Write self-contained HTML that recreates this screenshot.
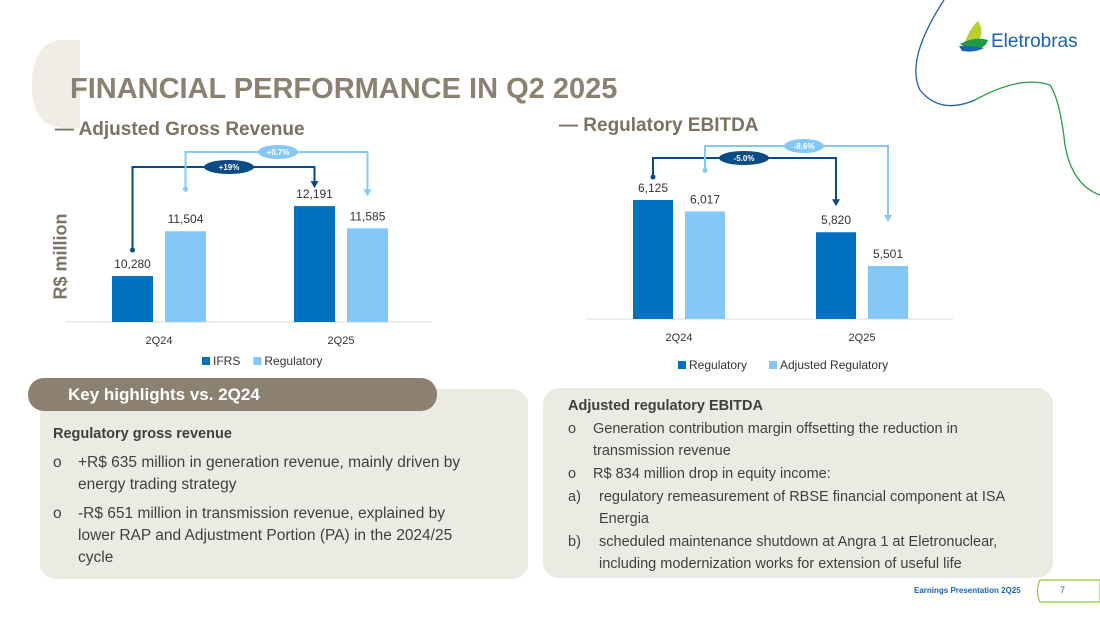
<!DOCTYPE html>
<html><head><meta charset="utf-8">
<style>
body{margin:0;width:1100px;height:619px;background:#fff;position:relative;overflow:hidden;font-family:"Liberation Sans",sans-serif;}
.abs{position:absolute;}
.txt{position:absolute;color:#3f3f3f;font-size:14.5px;line-height:22px;}
.li{position:absolute;color:#3f3f3f;font-size:15.5px;line-height:22px;}
.bul{position:absolute;left:0;top:0;}
</style></head><body>
<svg class="abs" style="left:0;top:0" width="1100" height="619">
<path d="M60 40 Q30 45 32 90 Q34 130 70 128 L80 128 L80 40 Z" fill="#efede6"/>
<path d="M944 0 Q905 60 920 90 Q940 115 975 100" fill="none" stroke="#1f5fae" stroke-width="1.3"/>
<path d="M975 100 Q1020 75 1050 85 Q1060 100 1065 145 Q1072 185 1100 195" fill="none" stroke="#2a9a4a" stroke-width="1.3"/>
<path d="M965 42 Q970 28 978 21 Q985 32 978 42 Z" fill="#b9cf32"/>
<path d="M960 44 Q975 36 988 40 Q985 50 970 50 Z" fill="#1d9a46"/>
<path d="M959 46 Q972 46 984 48 Q975 53 962 51 Z" fill="#1a62b3"/>
<path d="M1040 580 L1100 580 L1100 602 L1040 602 Q1035 591 1040 580 Z" fill="#fff" stroke="#9bc53d" stroke-width="1.2"/>
</svg>
<div class="abs" style="left:991px;top:31px;font-size:19px;color:#1a62b3">Eletrobras</div>
<div class="abs" style="left:70px;top:73px;font-size:29px;font-weight:bold;color:#8c8170">FINANCIAL PERFORMANCE IN Q2 2025</div>
<div class="abs" style="left:55px;top:119px;font-size:19px;font-weight:bold;color:#7b7262">— Adjusted Gross Revenue</div>
<div class="abs" style="left:559px;top:115px;font-size:19px;font-weight:bold;color:#7b7262">— Regulatory EBITDA</div>
<div class="abs" style="left:6px;top:246px;transform:rotate(-90deg);transform-origin:center;width:110px;text-align:center;font-size:18px;font-weight:bold;color:#7b7262">R$ million</div>

<svg id="c1" class="abs" style="left:0;top:0" width="1100" height="380"></svg>

<div class="abs" style="left:40px;top:389px;width:488px;height:190px;background:#ecebe3;border-radius:16px"></div>
<div class="abs" style="left:28px;top:378px;width:409px;height:33px;background:#8c8170;border-radius:16px;color:#fff;font-size:17px;font-weight:bold;line-height:33px;box-sizing:border-box;padding-left:40px">Key highlights vs. 2Q24</div>
<div class="txt" style="left:53px;top:423px;font-weight:bold;font-size:14.5px">Regulatory gross revenue</div>
<div class="li" style="left:53px;top:452px;width:425px"><span class="bul">o</span><div style="margin-left:25px">+R$ 635 million in generation revenue, mainly driven by energy trading strategy</div></div>
<div class="li" style="left:53px;top:503px;width:425px"><span class="bul">o</span><div style="margin-left:25px">-R$ 651 million in transmission revenue, explained by lower RAP and Adjustment Portion (PA) in the 2024/25 cycle</div></div>

<div class="abs" style="left:543px;top:388px;width:510px;height:190px;background:#ecebe3;border-radius:16px"></div>
<div class="txt" style="left:568px;top:395px;font-weight:bold;font-size:14.5px">Adjusted regulatory EBITDA</div>
<div class="li" style="left:568px;top:418px;width:450px;font-size:14.5px"><span class="bul">o</span><div style="margin-left:25px">Generation contribution margin offsetting the reduction in transmission revenue</div></div>
<div class="li" style="left:568px;top:463px;width:450px;font-size:14.5px"><span class="bul">o</span><div style="margin-left:25px">R$ 834 million drop in equity income:</div></div>
<div class="li" style="left:568px;top:486px;width:450px;font-size:14.5px"><span class="bul">a)</span><div style="margin-left:31px">regulatory remeasurement of RBSE financial component at ISA Energia</div></div>
<div class="li" style="left:568px;top:531px;width:470px;font-size:14.5px"><span class="bul">b)</span><div style="margin-left:31px">scheduled maintenance shutdown at Angra 1 at Eletronuclear, including modernization works for extension of useful life</div></div>

<div class="abs" style="left:914px;top:586px;font-size:8px;font-weight:bold;color:#1a62b3">Earnings Presentation 2Q25</div>
<div class="abs" style="left:1060px;top:585px;font-size:9px;color:#1a62b3">7</div>

<script>
const categories = ["2Q24","2Q25"];
const grossIFRS = [10280, 12191];
const grossReg = [11504, 11585];
const grossLabels = ["10,280","12,191"];
const grossRegLabels = ["11,504","11,585"];
const ebitdaReg = [6125, 5820];
const ebitdaAdj = [6017, 5501];
const ebitdaRegLabels = ["6,125","5,820"];
const ebitdaAdjLabels = ["6,017","5,501"];
const grossLegend = ["IFRS","Regulatory"];
const ebitdaLegend = ["Regulatory","Adjusted Regulatory"];
const grossChanges = ["+19%","+0.7%"];
const ebitdaChanges = ["-5.0%","-8.6%"];

const svg = document.getElementById('c1');
const NS = 'http://www.w3.org/2000/svg';
function mk(tag, attrs, parent){const e=document.createElementNS(NS,tag);for(const k in attrs)e.setAttribute(k,attrs[k]);(parent||svg).appendChild(e);return e;}
const DARK='#0070c0', LIGHT='#85c8f8', NAVY='#0a4a86';

function chart(cfg){
  const yScale = v => cfg.base - (v - cfg.vmin) * cfg.k;
  const ax = mk('line',{x1:cfg.axL,x2:cfg.axR,y1:cfg.base,y2:cfg.base,stroke:'#d9d9d9','stroke-width':1});
  
  
  const tops=[[],[]];
  categories.forEach((c,i)=>{
    const cx = cfg.groupX[i];
    [cfg.s1,cfg.s2].forEach((s,j)=>{
      const x = cx + (j===0? -cfg.gap/2 - cfg.bw : cfg.gap/2);
      const y = yScale(s[i]);
      tops[j][i]=[x+cfg.bw/2,y];
      const r = mk('rect',{x:x,y:y,width:cfg.bw,height:cfg.base-y,fill:j===0?DARK:LIGHT});
      
      
      const t = mk('text',{x:x+cfg.bw/2,y:y-8,'text-anchor':'middle','font-size':12,fill:'#333'});
      t.textContent = (j===0?cfg.l1:cfg.l2)[i];
      
      
    });
    const tl = mk('text',{x:cx,y:cfg.base+22,'text-anchor':'middle','font-size':11,fill:'#333'});
    tl.textContent=c;
    
    
  });
  [[0,NAVY,cfg.y1,cfg.o1],[1,LIGHT,cfg.y2,cfg.o2]].forEach(([j,col,hy,off])=>{
    const sx=tops[j][0][0], sy=tops[j][0][1]-off[0];
    const ex=tops[j][1][0], ey=tops[j][1][1]-off[1];
    const p=mk('path',{d:`M${sx} ${sy} V${hy} H${ex} V${ey-5}`,fill:'none',stroke:col,'stroke-width':2});
    
    
    mk('circle',{cx:sx,cy:sy,r:2.5,fill:col});
    mk('path',{d:`M${ex-4} ${ey-7} L${ex+4} ${ey-7} L${ex} ${ey} Z`,fill:col});
    const mx = cfg.pillX[j];
    const el = mk('ellipse',{cx:mx,cy:hy,rx:j===0?25:20,ry:7,fill:col});
    
    
    const tt = mk('text',{x:mx,y:hy+3,'text-anchor':'middle','font-size':8,'font-weight':'bold',fill:'#fff'});
    tt.textContent = cfg.changes[j];
  });
  let lx = cfg.legX;
  cfg.legend.forEach((name,j)=>{
    mk('rect',{x:lx,y:cfg.legY-8,width:8,height:8,fill:j===0?DARK:LIGHT});
    const t=mk('text',{x:lx+11,y:cfg.legY,'font-size':12,fill:'#333'});
    t.textContent=name;
    
    
    lx += 11 + name.length*6.6 + 14;
  });
}
chart({id:'gross',s1:grossIFRS,s2:grossReg,l1:grossLabels,l2:grossRegLabels,vmin:9024,k:0.0366,base:322,axL:66,axR:432,groupX:[159,341],bw:41,gap:12,
  y1:167,y2:152,o1:[26,18],o2:[42,32],pillX:[229,278],changes:grossChanges,legend:grossLegend,legX:202,legY:365});
chart({id:'ebitda',s1:ebitdaReg,s2:ebitdaAdj,l1:ebitdaRegLabels,l2:ebitdaAdjLabels,vmin:5000,k:0.1058,base:319,axL:587,axR:953,groupX:[679,862],bw:40,gap:12,
  y1:158,y2:146,o1:[23,26],o2:[41,44],pillX:[744,804],changes:ebitdaChanges,legend:ebitdaLegend,legX:678,legY:369});
</script>
</body></html>
